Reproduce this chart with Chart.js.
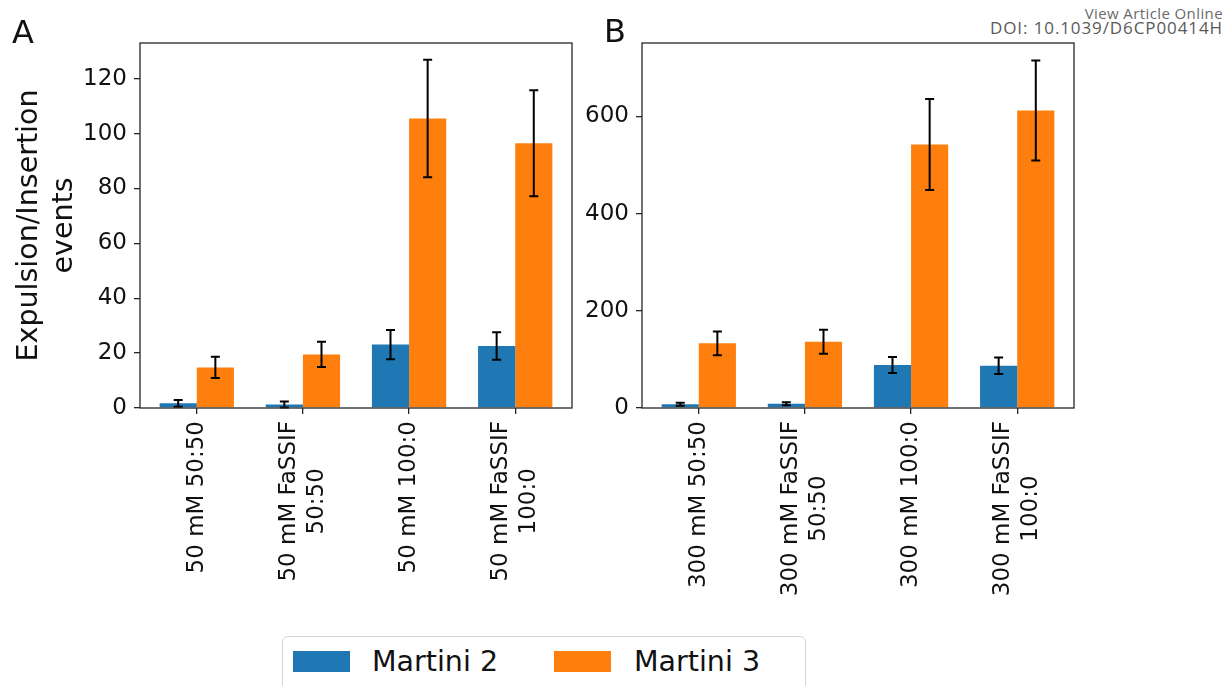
<!DOCTYPE html>
<html>
<head>
<meta charset="utf-8">
<script src="https://cdn.jsdelivr.net/npm/chart.js@4"></script>
<style>
  html, body { margin: 0; padding: 0; background: #fff; }
  body { width: 1224px; height: 686px; position: relative; overflow: hidden; font-family: "DejaVu Sans", sans-serif; }
  canvas { position: absolute; top: 0; }
  #panelA { left: 0; }
  #panelB { left: 580px; }
  .header { position: absolute; right: 1px; font-family: "Open Sans", sans-serif; line-height: 1; white-space: nowrap; }
  #legend { position: absolute; left: 282px; top: 636px; width: 524px; height: 70px; border: 1.5px solid #d4d4d4; border-radius: 6px; background: #fff; box-sizing: border-box; }
  .swatch { position: absolute; top: 14px; width: 57px; height: 21px; }
  .legText { position: absolute; top: 11px; font-size: 28.5px; line-height: 1; color: #111; white-space: nowrap; }
</style>
</head>
<body>
<div class="header" style="top:6px; font-size:15px; letter-spacing:0.4px; color:#6a6a6a;">View Article Online</div>
<div class="header" style="top:19px; font-size:17px; letter-spacing:0.9px; color:#5a5a5a;">DOI: 10.1039/D6CP00414H</div>

<canvas id="panelA" width="580" height="686"></canvas>
<canvas id="panelB" width="644" height="686"></canvas>

<div id="legend">
  <div class="swatch" style="left:10px; background:#1f77b4;"></div>
  <div class="legText" style="left:89px;">Martini 2</div>
  <div class="swatch" style="left:271px; background:#ff7f0e;"></div>
  <div class="legText" style="left:351px;">Martini 3</div>
</div>

<script>
// Panel A data (50 mM)
const categoriesA = [["50 mM 50:50"], ["50 mM FaSSIF", "50:50"], ["50 mM 100:0"], ["50 mM FaSSIF", "100:0"]];
const martini2A = [1.7, 1.3, 23.1, 22.6];
const martini2ErrA = [1.2, 1.1, 5.3, 5.0];
const martini3A = [14.8, 19.5, 105.5, 96.5];
const martini3ErrA = [3.9, 4.6, 21.4, 19.3];
const yMaxA = 133;
const yStepA = 20;

// Panel B data (300 mM)
const categoriesB = [["300 mM 50:50"], ["300 mM FaSSIF", "50:50"], ["300 mM 100:0"], ["300 mM FaSSIF", "100:0"]];
const martini2B = [7.6, 8.9, 88.5, 87];
const martini2ErrB = [3, 3, 16.5, 17];
const martini3B = [133, 136.5, 542, 612];
const martini3ErrB = [24.5, 24.7, 93.6, 103];
const yMaxB = 751;
const yStepB = 200;

const BLUE = "#1f77b4";
const ORANGE = "#ff7f0e";
const INK = "#262626";
const FONT = '"DejaVu Sans", sans-serif';

// error bars drawn on top of the bars
const errorBars = {
  id: "errorBars",
  afterDatasetsDraw(chart) {
    const ctx = chart.ctx;
    const yScale = chart.scales.y;
    ctx.save();
    ctx.strokeStyle = "#000";
    ctx.lineWidth = 2;
    chart.data.datasets.forEach((ds, di) => {
      const meta = chart.getDatasetMeta(di);
      meta.data.forEach((bar, i) => {
        const v = ds.data[i].y;
        const e = ds.err[i];
        const yTop = yScale.getPixelForValue(v + e);
        const yBot = yScale.getPixelForValue(v - e);
        ctx.beginPath();
        ctx.moveTo(bar.x, yTop);
        ctx.lineTo(bar.x, yBot);
        ctx.moveTo(bar.x - 4.5, yTop);
        ctx.lineTo(bar.x + 4.5, yTop);
        ctx.moveTo(bar.x - 4.5, yBot);
        ctx.lineTo(bar.x + 4.5, yBot);
        ctx.stroke();
      });
    });
    ctx.restore();
  }
};

// box around the plot, panel letter, axis title and rotated category labels
const decor = {
  id: "decor",
  afterDraw(chart) {
    const ctx = chart.ctx;
    const area = chart.chartArea;
    const cfg = chart.options.panel;
    ctx.save();
    ctx.strokeStyle = INK;
    ctx.lineWidth = 1.3;
    ctx.strokeRect(area.left, area.top, area.right - area.left, area.bottom - area.top);

    ctx.fillStyle = "#111";
    ctx.font = "32px " + FONT;
    ctx.textAlign = "left";
    ctx.textBaseline = "alphabetic";
    ctx.fillText(cfg.letter, cfg.letterX, cfg.letterY);

    if (cfg.yTitle) {
      ctx.save();
      ctx.font = "28.5px " + FONT;
      ctx.textAlign = "center";
      ctx.translate(0, (area.top + area.bottom) / 2);
      ctx.rotate(-Math.PI / 2);
      ctx.fillText(cfg.yTitle[0], 0, 36.7);
      ctx.fillText(cfg.yTitle[1], 0, 71.5);
      ctx.restore();
    }

    const xScale = chart.scales.x;
    ctx.font = "23px " + FONT;
    ctx.textAlign = "center";
    ctx.textBaseline = "middle";
    const anchorY = area.bottom + 13;
    cfg.cats.forEach((lines, i) => {
      const x = xScale.getPixelForValue(i);
      const w = Math.max(...lines.map((l) => ctx.measureText(l).width));
      ctx.save();
      ctx.translate(x, anchorY);
      ctx.rotate(-Math.PI / 2);
      lines.forEach((l, k) => {
        ctx.fillText(l, -w / 2, (k - (lines.length - 1) / 2) * 28);
      });
      ctx.restore();
    });
    ctx.restore();
  }
};

function makePanel(id, cfg) {
  const toPoints = (arr) => arr.map((v, i) => ({ x: i, y: v }));
  const gridOpts = {
    drawOnChartArea: false,
    drawTicks: true,
    tickLength: 6,
    color: INK,
    lineWidth: 1.3,
    offset: false
  };
  return new Chart(document.getElementById(id), {
    type: "bar",
    data: {
      datasets: [
        { label: "Martini 2", data: toPoints(cfg.m2), err: cfg.m2Err, backgroundColor: BLUE },
        { label: "Martini 3", data: toPoints(cfg.m3), err: cfg.m3Err, backgroundColor: ORANGE }
      ]
    },
    options: {
      responsive: false,
      animation: false,
      events: [],
      categoryPercentage: 0.7,
      barPercentage: 1,
      panel: cfg,
      layout: { padding: { top: 43, right: cfg.padRight, left: 0, bottom: 0 } },
      plugins: { legend: { display: false }, tooltip: { enabled: false } },
      scales: {
        x: {
          type: "linear",
          offset: false,
          min: -0.535,
          max: cfg.m2.length - 1 + 0.535,
          grid: gridOpts,
          border: { display: false },
          ticks: { display: false },
          afterBuildTicks: (s) => { s.ticks = cfg.cats.map((_, i) => ({ value: i })); },
          afterFit: (s) => { s.height = 686 - 408; }
        },
        y: {
          min: 0,
          max: cfg.yMax,
          grid: gridOpts,
          border: { display: false },
          ticks: { stepSize: cfg.yStep, padding: 7, color: "#111", font: { family: FONT, size: 23 } },
          afterBuildTicks: (s) => { s.ticks = s.ticks.filter((t) => t.value % cfg.yStep === 0); },
          afterFit: (s) => { s.width = cfg.axisLeft; }
        }
      }
    },
    plugins: [errorBars, decor]
  });
}

makePanel("panelA", {
  cats: categoriesA, m2: martini2A, m2Err: martini2ErrA, m3: martini3A, m3Err: martini3ErrA,
  yMax: yMaxA, yStep: yStepA, axisLeft: 140, padRight: 8,
  letter: "A", letterX: 12, letterY: 43, yTitle: ["Expulsion/Insertion", "events"]
});

makePanel("panelB", {
  cats: categoriesB, m2: martini2B, m2Err: martini2ErrB, m3: martini3B, m3Err: martini3ErrB,
  yMax: yMaxB, yStep: yStepB, axisLeft: 62, padRight: 150,
  letter: "B", letterX: 24, letterY: 42, yTitle: null
});
</script>
</body>
</html>
